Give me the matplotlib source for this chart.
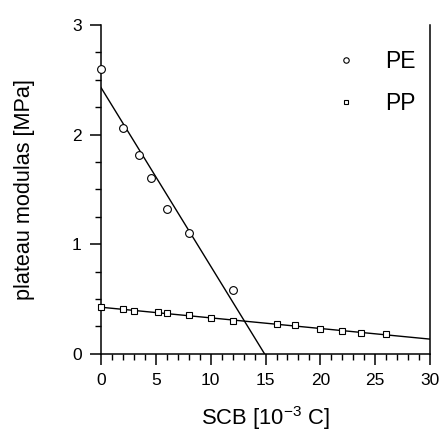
import numpy as np
import matplotlib
matplotlib.use("Agg")
import matplotlib.pyplot as plt
from matplotlib.ticker import MultipleLocator

plt.rcParams["font.family"] = ["Liberation Sans", "DejaVu Sans"]

# PE data (circles)
pe_scb = [0, 2, 3.5, 4.6, 6, 8, 12]
pe_mod = [2.60, 2.06, 1.81, 1.60, 1.32, 1.10, 0.58]

# PP data (squares)
pp_scb = [0, 2, 3, 5.2, 6, 8, 10, 12, 16, 17.7, 20, 22, 23.7, 26]
pp_mod = [0.43, 0.41, 0.39, 0.38, 0.37, 0.35, 0.33, 0.30, 0.27, 0.265,
          0.23, 0.21, 0.19, 0.18]

# straight-line fits: intercept, slope, x range
pe_fit = (2.43, -0.163, 0, 14.9)
pp_fit = (0.425, -0.0097, 0, 30)


def main():
    fig = plt.figure(figsize=(4.4, 4.32), dpi=100)
    ax = fig.add_axes([0.2295, 0.181, 0.748, 0.761])

    for b, m, x0, x1 in (pe_fit, pp_fit):
        xs = np.array([x0, x1])
        ax.plot(xs, b + m * xs, color="k", lw=1.0, zorder=2)

    ax.plot(pe_scb, pe_mod, ls="none", marker="o", ms=5.6, mfc="white",
            mec="k", mew=0.8, clip_on=False, zorder=3, label="PE")
    ax.plot(pp_scb, pp_mod, ls="none", marker="s", ms=5.0, mfc="white",
            mec="k", mew=0.8, clip_on=False, zorder=3, label="PP")

    ax.set_xlim(0, 30)
    ax.set_ylim(0, 3)
    ax.xaxis.set_major_locator(MultipleLocator(5))
    ax.xaxis.set_minor_locator(MultipleLocator(1))
    ax.yaxis.set_major_locator(MultipleLocator(1))
    ax.yaxis.set_minor_locator(MultipleLocator(0.25))

    ax.spines["top"].set_visible(False)
    for s in ("left", "right", "bottom"):
        ax.spines[s].set_linewidth(1.1)
    ax.tick_params(which="major", direction="out", length=8, width=1.1,
                   labelsize=12.5, pad=6)
    ax.tick_params(which="minor", direction="out", length=4, width=1.0)

    ax.set_xlabel(r"SCB [10$^{\mathregular{-3}}$ C]", fontsize=15.8)
    ax.xaxis.set_label_coords(0.5, -0.152)
    ax.set_ylabel("plateau modulas [MPa]", fontsize=15.6)
    ax.yaxis.set_label_coords(-0.2, 0.5)

    ax.legend(loc="upper left", bbox_to_anchor=(0.71, 0.925), frameon=False,
              fontsize=16.5, markerscale=0.7, handlelength=1.0,
              handletextpad=1.2, labelspacing=0.85, borderpad=0,
              borderaxespad=0)

    fig.savefig("out.png", dpi=100)


if __name__ == "__main__":
    main()
